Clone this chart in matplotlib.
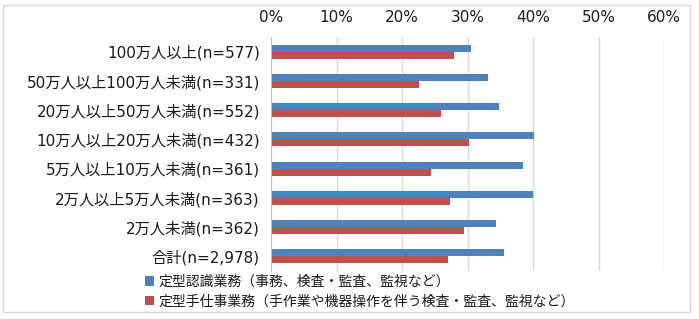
import matplotlib
matplotlib.use("Agg")
import matplotlib.pyplot as plt
from matplotlib.patches import Patch, Rectangle
import numpy as np

# Latin glyphs from DejaVu (wider, closer to the original), CJK falls back to Noto
plt.rcParams['font.family'] = ['DejaVu Sans', 'Noto Sans CJK JP']

# categories, top to bottom
categories = [
    "100万人以上(n=577)",
    "50万人以上100万人未満(n=331)",
    "20万人以上50万人未満(n=552)",
    "10万人以上20万人未満(n=432)",
    "5万人以上10万人未満(n=361)",
    "2万人以上5万人未満(n=363)",
    "2万人未満(n=362)",
    "合計(n=2,978)",
]
cognitive = [30.5, 33.1, 34.8, 40.2, 38.4, 40.0, 34.4, 35.6]
manual = [27.9, 22.6, 25.9, 30.3, 24.4, 27.3, 29.4, 27.0]
series_names = [
    "定型認識業務（事務、検査・監査、監視など）",
    "定型手仕事業務（手作業や機器操作を伴う検査・監査、監視など）",
]
xticks = [0, 10, 20, 30, 40, 50, 60]

BLUE = "#4F81BD"
RED = "#C0504D"
GRID = "#D9D9D9"
TEXT = "#1A1A1A"

W, H = 699, 319
fig = plt.figure(figsize=(W / 100, H / 100), dpi=100)
fig.patch.set_facecolor("white")

# outer chart frame
fig.patches.append(Rectangle((3 / W, 7 / H), 687 / W, 307 / H, transform=fig.transFigure,
                             fill=False, edgecolor=GRID, linewidth=1))

ax = fig.add_axes([271 / W, (H - 271) / H, (664 - 271) / W, (271 - 37) / H])

y = np.arange(len(categories))
h = 0.24
ax.barh(y - h / 2, cognitive, height=h, color=BLUE, label=series_names[0], zorder=3)
ax.barh(y + h / 2, manual, height=h, color=RED, label=series_names[1], zorder=3)

ax.set_ylim(len(categories) - 0.5, -0.5)
ax.set_yticks(y)
ax.set_yticklabels(categories, fontsize=11, color=TEXT)
ax.set_xlim(0, 60)
ax.set_xticks(xticks)
ax.set_xticklabels([f"{t}%" for t in xticks], fontsize=11, color=TEXT)
ax.xaxis.tick_top()
ax.tick_params(axis='x', length=0, pad=9)
ax.tick_params(axis='y', length=0, pad=8)
ax.grid(axis='x', color=GRID, linewidth=1, zorder=0)

for s in ['top', 'right', 'bottom']:
    ax.spines[s].set_visible(False)
ax.spines['left'].set_color("#BFBFBF")
ax.spines['left'].set_zorder(4)

handles = [Patch(facecolor=BLUE), Patch(facecolor=RED)]
fig.legend(handles, series_names, loc='upper left', bbox_to_anchor=(138 / W, (H - 268) / H),
           frameon=False, fontsize=10, handlelength=0.65, handleheight=0.65,
           handletextpad=0.35, labelspacing=0.38, borderpad=0, labelcolor=TEXT)

fig.savefig("out.png", dpi=100)
